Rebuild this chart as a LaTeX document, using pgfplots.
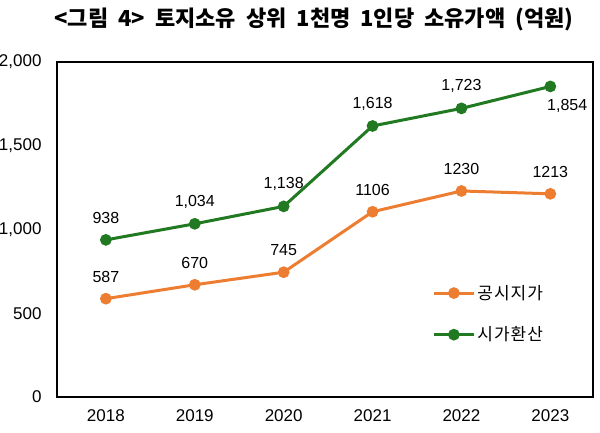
\documentclass[border=0pt]{standalone}
\usepackage{pgfplots}
\pgfplotsset{compat=1.18}
\usepackage{fontspec}
\setmainfont{Liberation Sans}
\newfontfamily\kr{Noto Sans CJK KR}
\newfontfamily\krl[LetterSpace=6]{Noto Sans CJK KR}
\definecolor{org}{HTML}{ED7D31}
\definecolor{grn}{HTML}{217A21}
\begin{document}
\begin{tikzpicture}[x=1pt,y=1pt]
\useasboundingbox (0,0) rectangle (600,432);
\node[font=\kr\bfseries\fontsize{22}{24}\selectfont] at (314,413) {\spaceskip=10pt <그림 4> 토지소유 상위 1천명 1인당 소유가액 (억원)};
\begin{axis}[
  at={(57pt,35pt)}, anchor=south west,
  scale only axis, width=536pt, height=335pt,
  xmin=-0.55, xmax=5.48, ymin=0, ymax=2000,
  xtick={0,...,5}, xticklabels={2018,2019,2020,2021,2022,2023},
  ytick={0,500,1000,1500,2000},
  major tick length=0pt,
  axis line style={black, line width=1.6pt},
  /pgf/number format/assume math mode=true,
  /pgf/number format/1000 sep={,},
  tick label style={font=\fontsize{17}{19}\selectfont},
  xticklabel style={yshift=-9pt},
  yticklabel style={xshift=-12pt},
  legend style={at={(axis description cs:0.70,0.34)}, anchor=north west, draw=none, fill=none,
     font=\krl\fontsize{17}{19}\selectfont, row sep=22pt, inner sep=0pt,
     /tikz/every even column/.append style={column sep=0pt}},
  legend cell align=left,
  legend image code/.code={\draw[#1, mark repeat=2, mark phase=2] plot coordinates {(0pt,0pt) (20pt,0pt) (40pt,0pt)};},
  every axis plot/.append style={line width=3pt, mark=*, mark size=4.3pt, mark options={solid}},
  every node near coord/.append style={font=\fontsize{16}{18}\selectfont, black, anchor=center, yshift=22pt},
]
\addplot[color=org, nodes near coords,
  nodes near coords={\pgfmathprintnumber[1000 sep={}]{\pgfplotspointmeta}}]
  coordinates {(0,587) (1,670) (2,745) (3,1106) (4,1230) (5,1213)};
\addlegendentry{공시지가}
\addplot[color=grn]
  coordinates {(0,938) (1,1034) (2,1138) (3,1618) (4,1723) (5,1854)};
\addlegendentry{시가환산}
\addplot[draw=none, mark=none, forget plot,
  nodes near coords={\pgfmathprintnumber[1000 sep={,}]{\pgfplotspointmeta}}]
  coordinates {(0,938) (1,1034) (2,1138) (3,1618) (4,1723)};
\addplot[draw=none, mark=none, forget plot,
  nodes near coords={\pgfmathprintnumber[1000 sep={,}]{\pgfplotspointmeta}},
  every node near coord/.append style={anchor=north west, yshift=-30pt, xshift=-8pt}]
  coordinates {(5,1854)};
\end{axis}
\end{tikzpicture}
\end{document}
